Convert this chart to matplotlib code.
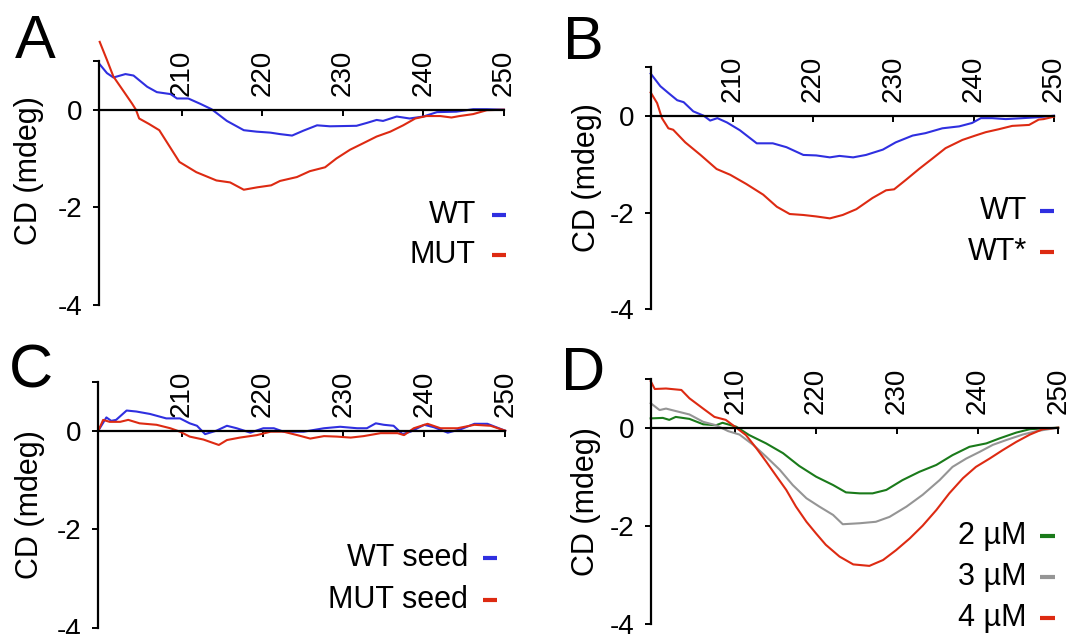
import matplotlib
matplotlib.use('Agg')
import matplotlib.pyplot as plt
from matplotlib.lines import Line2D

plt.rcParams['font.family'] = ['Liberation Sans', 'DejaVu Sans']

BLUE = '#2f2fe0'
RED = '#dd2a12'
GREEN = '#1a7a1a'
GREY = '#959595'

# ---- panel A : WT vs MUT
a_wt_nm = [199.8, 200.7, 201.5, 203.0, 204.0, 205.7, 206.9, 208.6, 209.4, 210.8, 212.3, 213.7,
           215.6, 217.7, 219.3, 221.0, 222.2, 223.7, 225.1, 226.8, 228.4, 231.7, 233.0, 234.2,
           235.0, 236.7, 238.3, 240.0, 241.7, 244.1, 246.2, 247.9, 250.0]
a_wt_cd = [0.93, 0.75, 0.66, 0.73, 0.70, 0.47, 0.36, 0.32, 0.23, 0.23, 0.12, 0.01,
           -0.23, -0.42, -0.45, -0.47, -0.50, -0.53, -0.43, -0.32, -0.34, -0.33, -0.27, -0.21,
           -0.23, -0.14, -0.18, -0.14, -0.05, -0.04, 0.01, 0.01, 0.0]
a_mut_nm = [199.8, 200.7, 201.5, 202.8, 203.8, 204.3, 204.7, 205.9, 207.2, 209.7, 211.8, 214.3,
            216.0, 217.7, 219.4, 221.1, 222.2, 224.3, 225.9, 227.8, 229.2, 230.9, 232.5, 234.2,
            235.9, 237.5, 239.0, 240.4, 242.1, 243.5, 244.5, 246.2, 247.9, 250.0]
a_mut_cd = [1.39, 1.02, 0.68, 0.37, 0.13, 0.0, -0.18, -0.29, -0.42, -1.07, -1.28, -1.45,
            -1.49, -1.64, -1.59, -1.55, -1.46, -1.38, -1.26, -1.18, -1.00, -0.82, -0.69, -0.55,
            -0.45, -0.32, -0.18, -0.13, -0.13, -0.16, -0.13, -0.09, -0.01, 0.0]

# ---- panel B : WT vs WT*
b_wt_nm = [199.8, 201.0, 202.0, 203.1, 203.9, 205.1, 206.4, 207.2, 208.1, 209.3, 210.9, 213.0,
           215.0, 216.7, 218.8, 220.4, 222.1, 223.3, 225.0, 226.6, 228.7, 230.3, 232.4, 234.0,
           236.1, 238.2, 239.8, 240.9, 242.3, 244.0, 246.1, 248.1, 250.0]
b_wt_cd = [0.87, 0.61, 0.47, 0.32, 0.28, 0.09, 0.0, -0.10, -0.05, -0.14, -0.30, -0.57,
           -0.57, -0.65, -0.81, -0.82, -0.86, -0.83, -0.86, -0.81, -0.70, -0.55, -0.41, -0.36,
           -0.26, -0.22, -0.15, -0.05, -0.05, -0.07, -0.05, -0.03, 0.0]
b_wts_nm = [199.8, 200.6, 201.2, 202.0, 202.6, 204.1, 206.0, 208.0, 209.7, 211.7, 213.8, 215.5,
            217.1, 218.8, 220.4, 222.1, 223.7, 225.4, 227.4, 229.1, 230.1, 231.6, 233.2, 234.9,
            236.5, 238.6, 240.2, 241.5, 243.1, 244.8, 246.9, 248.1, 248.7, 250.0]
b_wts_cd = [0.48, 0.26, -0.05, -0.26, -0.29, -0.55, -0.81, -1.10, -1.22, -1.41, -1.63, -1.88,
            -2.03, -2.05, -2.08, -2.12, -2.05, -1.93, -1.70, -1.54, -1.52, -1.32, -1.10, -0.88,
            -0.67, -0.50, -0.41, -0.34, -0.28, -0.21, -0.19, -0.08, -0.07, -0.02]

# ---- panel C : seeds
c_wt_nm = [199.7, 200.7, 201.3, 201.9, 203.2, 204.4, 206.1, 208.1, 209.8, 211.0, 211.9, 212.9,
           214.3, 215.6, 216.8, 218.5, 220.1, 221.4, 222.6, 225.1, 227.6, 229.6, 231.7, 232.9,
           234.0, 235.0, 236.2, 237.3, 238.3, 240.0, 241.2, 242.9, 244.5, 246.2, 247.8, 250.0]
c_wt_cd = [0.0, 0.27, 0.20, 0.22, 0.41, 0.39, 0.34, 0.25, 0.25, 0.15, 0.10, -0.07,
           0.0, 0.10, 0.05, -0.04, 0.05, 0.05, -0.02, -0.02, 0.05, 0.08, 0.05, 0.05,
           0.15, 0.12, 0.10, -0.07, -0.02, 0.12, 0.07, -0.04, 0.03, 0.14, 0.14, 0.0]
c_mut_nm = [199.7, 200.3, 201.1, 202.4, 203.4, 204.8, 206.9, 208.6, 209.8, 211.0, 212.7, 214.6,
            215.6, 217.2, 219.3, 221.0, 222.6, 224.3, 225.9, 227.6, 229.2, 230.9, 232.5, 234.6,
            236.7, 237.5, 238.7, 240.4, 242.0, 244.1, 246.2, 248.2, 250.0]
c_mut_cd = [0.0, 0.22, 0.18, 0.18, 0.22, 0.15, 0.12, 0.05, -0.02, -0.12, -0.18, -0.29,
            -0.19, -0.14, -0.09, -0.02, -0.02, -0.09, -0.16, -0.11, -0.12, -0.14, -0.11, -0.05,
            -0.05, -0.09, 0.05, 0.14, 0.05, 0.05, 0.12, 0.10, 0.0]

# ---- panel D : concentration series
d_2_nm = [199.5, 201.0, 201.8, 202.6, 204.3, 206.0, 207.6, 208.4, 210.1, 211.7, 213.8, 215.9,
          217.9, 220.0, 222.1, 223.7, 225.4, 227.0, 228.7, 230.7, 232.8, 234.9, 236.9, 239.0,
          241.1, 242.7, 244.8, 246.5, 250.0]
d_2_cd = [0.19, 0.20, 0.16, 0.22, 0.18, 0.07, 0.05, 0.10, 0.02, -0.15, -0.32, -0.52,
          -0.78, -1.00, -1.17, -1.32, -1.34, -1.34, -1.27, -1.07, -0.90, -0.76, -0.56, -0.39,
          -0.32, -0.22, -0.10, -0.03, 0.0]
d_3_nm = [199.5, 200.6, 201.4, 202.6, 204.3, 206.0, 207.6, 209.1, 210.5, 212.2, 213.8, 215.5,
          217.1, 218.8, 220.4, 222.1, 223.3, 225.4, 227.4, 229.1, 231.2, 233.2, 235.3, 236.9,
          238.6, 240.3, 241.9, 243.6, 245.6, 247.3, 250.0]
d_3_cd = [0.50, 0.36, 0.39, 0.34, 0.27, 0.12, 0.05, -0.07, -0.14, -0.35, -0.59, -0.86,
          -1.17, -1.44, -1.61, -1.78, -1.97, -1.95, -1.92, -1.82, -1.61, -1.37, -1.07, -0.80,
          -0.63, -0.49, -0.35, -0.25, -0.14, -0.07, 0.0]
d_4_nm = [199.5, 200.0, 201.4, 203.3, 204.3, 206.0, 207.4, 208.8, 210.1, 211.3, 212.6, 213.8,
          215.0, 216.3, 217.5, 218.8, 220.0, 221.2, 222.9, 224.6, 226.6, 228.3, 229.9, 231.6,
          233.2, 234.9, 236.5, 238.2, 239.8, 241.5, 243.1, 244.8, 246.5, 248.1, 250.0]
d_4_cd = [0.95, 0.79, 0.80, 0.77, 0.60, 0.39, 0.22, 0.16, 0.0, -0.15, -0.42, -0.69,
          -0.97, -1.27, -1.61, -1.92, -2.16, -2.39, -2.63, -2.79, -2.82, -2.70, -2.50, -2.26,
          -2.00, -1.68, -1.34, -1.03, -0.80, -0.63, -0.46, -0.29, -0.14, -0.03, 0.0]

x_ticks = [210, 220, 230, 240, 250]
y_ticks = [-4, -2, 0, 1]
y_tick_labels = ['-4', '-2', '0', '']

W, H = 1071, 634
fig = plt.figure(figsize=(W / 100, H / 100), dpi=100)


def px_axes(left, right, top, bottom):
    return fig.add_axes([left / W, 1 - bottom / H, (right - left) / W, (bottom - top) / H])


def style(ax, x_left):
    ax.set_xlim(x_left, 250)
    ax.set_ylim(-4, 1)
    for s in ['right', 'bottom']:
        ax.spines[s].set_visible(False)
    ax.spines['top'].set_position(('data', 0))
    for s in ['top', 'left']:
        ax.spines[s].set_linewidth(1.6)
    ax.xaxis.set_ticks_position('top')
    ax.set_xticks(x_ticks)
    ax.set_xticklabels([str(t) for t in x_ticks], rotation=90)
    ax.set_yticks(y_ticks)
    ax.set_yticklabels(y_tick_labels)
    ax.tick_params(axis='x', direction='in', length=4, width=1.4, pad=10, labelsize=20)
    ax.tick_params(axis='y', direction='out', length=4, width=1.4, pad=8, labelsize=20)
    ax.patch.set_visible(False)


def key(ax, labels, colors, x_text, x0, x1, ys):
    for lab, col, y in zip(labels, colors, ys):
        ax.text(x_text, y, lab, transform=ax.transAxes, ha='right', va='center', fontsize=22)
        ax.add_line(Line2D([x0, x1], [y, y], transform=ax.transAxes, color=col, lw=3,
                           clip_on=False, solid_capstyle='butt'))


axA = px_axes(99.3, 503.8, 60.9, 304.9)
axB = px_axes(650.7, 1054, 67.3, 309.4)
axC = px_axes(98.3, 505.2, 381.5, 627.5)
axD = px_axes(650.7, 1058.2, 378.7, 623.7)

style(axA, 199.75)
style(axB, 199.8)
style(axC, 199.7)
style(axD, 199.5)

lw = 1.5
axA.plot(a_wt_nm, a_wt_cd, color=BLUE, lw=lw, clip_on=False)
axA.plot(a_mut_nm, a_mut_cd, color=RED, lw=lw, clip_on=False)
key(axA, ['WT', 'MUT'], [BLUE, RED], 0.931, 0.971, 1.005, [0.368, 0.2045])

axB.plot(b_wt_nm, b_wt_cd, color=BLUE, lw=lw, clip_on=False)
axB.plot(b_wts_nm, b_wts_cd, color=RED, lw=lw, clip_on=False)
key(axB, ['WT', 'WT*'], [BLUE, RED], 0.9326, 0.965, 0.999, [0.408, 0.236])

axC.plot(c_wt_nm, c_wt_cd, color=BLUE, lw=lw, clip_on=False)
axC.plot(c_mut_nm, c_mut_cd, color=RED, lw=lw, clip_on=False)
key(axC, ['WT seed', 'MUT seed'], [BLUE, RED], 0.909, 0.946, 0.98, [0.281, 0.112])

axD.plot(d_2_nm, d_2_cd, color=GREEN, lw=lw, clip_on=False)
axD.plot(d_3_nm, d_3_cd, color=GREY, lw=lw, clip_on=False)
axD.plot(d_4_nm, d_4_cd, color=RED, lw=lw, clip_on=False)
key(axD, ['2 µM', '3 µM', '4 µM'], [GREEN, GREY, RED], 0.921, 0.955, 0.992,
    [0.358, 0.192, 0.022])

# y labels and panel letters
for (x, y) in [(29.4, 171), (586.9, 177.5), (30.4, 505), (585.9, 501.7)]:
    fig.text(x / W, 1 - y / H, 'CD (mdeg)', rotation=90, ha='center', va='center', fontsize=22)
for lab, (x, y) in zip('ABCD', [(15, 58), (563, 59), (9, 388), (561, 390)]):
    fig.text(x / W, 1 - y / H, lab, ha='left', va='baseline', fontsize=44)

fig.savefig('out.png', dpi=100)
